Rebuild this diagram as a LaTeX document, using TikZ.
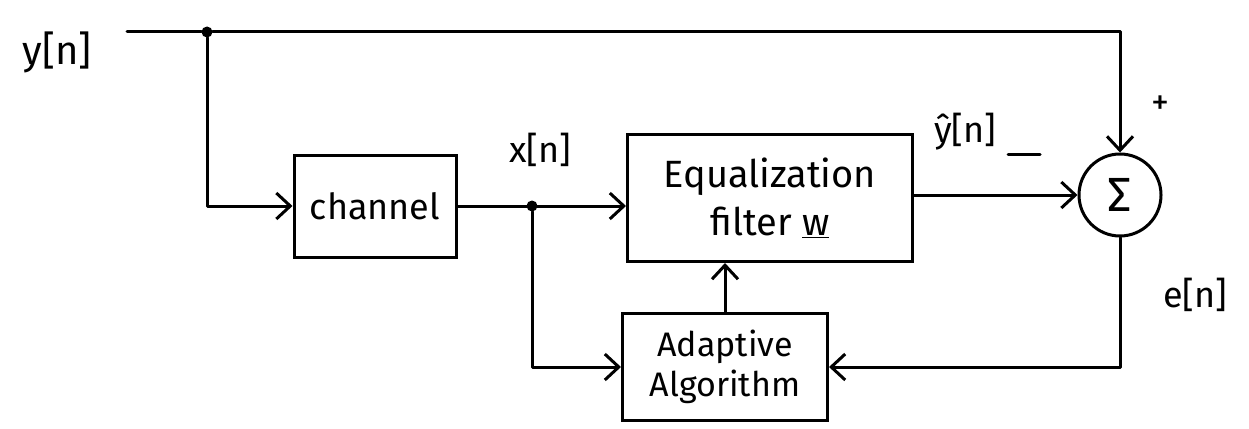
\documentclass[tikz,border=0pt]{standalone}
\usepackage{fontspec}
\setmainfont{Fira Sans}
\usetikzlibrary{arrows.meta}
\begin{document}
\begin{tikzpicture}[x=1pt,y=-1pt,
  wire/.style={line width=3pt, line cap=round, line join=round},
  arr/.style={wire, -{Straight Barb[length=14pt,width=26pt,line width=3pt]}},
  blk/.style={draw, line width=3pt, inner sep=0pt, align=center},
  lbl/.style={font=\fontsize{36}{40}\selectfont, inner sep=0pt},
  dot/.style={circle, fill, inner sep=0pt, minimum size=11pt}]
\useasboundingbox (0,0) rectangle (1249,428);
\node[blk, minimum width=162pt, minimum height=102pt, font=\fontsize{36}{40}\selectfont] (channel) at (375,206) {channel};
\node[blk, minimum width=285pt, minimum height=127pt, font=\fontsize{38}{48}\selectfont] (eq) at (770,198) {Equalization\\filter \underline{w}};
\node[blk, minimum width=205pt, minimum height=107pt, font=\fontsize{34}{40}\selectfont] (adapt) at (725,367) {Adaptive\\Algorithm};
\node[draw, circle, line width=3pt, minimum size=82pt, inner sep=0pt, font=\fontsize{48}{48}\selectfont] (sum) at (1120,195) {Σ};
\node[lbl, font=\fontsize{40}{44}\selectfont] (ylab) at (57,52) {y[n]};
\node[lbl] (xlab) at (540,150) {x[n]};
\node[lbl] (yhat) at (965,132) {ŷ[n]};
\node[lbl] (plus) at (1160,105) {+};
\node[lbl] (elab) at (1195,295) {e[n]};
\coordinate (m1) at (1008,154);
\coordinate (m2) at (1040,154);
\draw[wire] (m1) -- (m2);
\coordinate (start) at (127,32);
\node[dot] (j1) at (207,32) {};
\coordinate (tr) at (1120,32);
\coordinate (c1) at (207,206);
\node[dot] (j2) at (532,206) {};
\coordinate (c2) at (532,367);
\coordinate (c3) at (1120,367);
\draw[wire] (start) -- (j1);
\draw[arr] (j1) -- (tr) -- (sum.north);
\draw[arr] (j1) -- (c1) -- (channel.west);
\draw[arr] (channel.east) -- (channel.east -| eq.west);
\draw[arr] (j2) -- (c2) -- (adapt.west);
\draw[arr] (eq.east |- sum.west) -- (sum.west);
\draw[arr] (sum.south) -- (c3) -- (adapt.east);
\draw[arr] (adapt.north) -- (adapt.north |- eq.south);
\end{tikzpicture}
\end{document}
